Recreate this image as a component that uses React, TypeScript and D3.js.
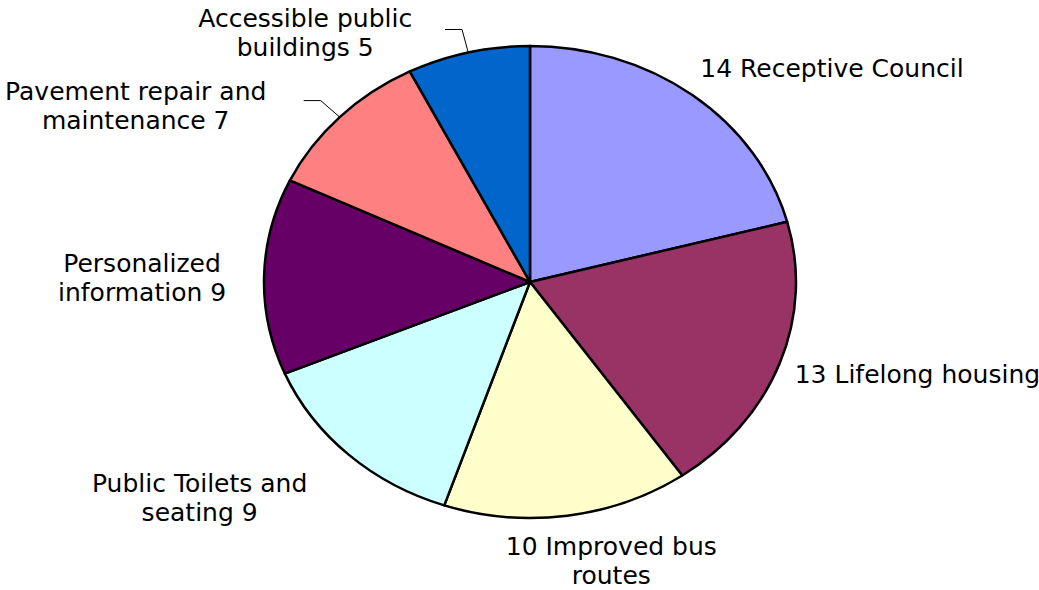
import { arc, pie, select } from "d3";
import { useEffect, useRef } from "react";

const categories = [
  "Receptive Council",
  "Lifelong housing",
  "Improved bus routes",
  "Public Toilets and seating",
  "Personalized information",
  "Pavement repair and maintenance",
  "Accessible public buildings",
];
const values = [14, 13, 10, 9, 9, 7, 5];
const labelLines = [
  ["14 Receptive Council"],
  ["13 Lifelong housing"],
  ["10 Improved bus", "routes"],
  ["Public Toilets and", "seating 9"],
  ["Personalized", "information 9"],
  ["Pavement repair and", "maintenance 7"],
  ["Accessible public", "buildings 5"],
];
const colors = ["#9999FF", "#993366", "#FFFFCC", "#CCFFFF", "#660066", "#FF8080", "#0066CC"];

// label placement relative to the slice's outer mid point
const labelOffsets: { dx: number; dy: number; anchor: string; leader?: boolean }[] = [
  { dx: 8, dy: -18, anchor: "start" },
  { dx: 15, dy: 20, anchor: "start" },
  { dx: 44, dy: 39, anchor: "middle" },
  { dx: -149, dy: 37, anchor: "middle" },
  { dx: -122, dy: -4, anchor: "middle" },
  { dx: -204, dy: -17, anchor: "middle", leader: true },
  { dx: -163, dy: -25, anchor: "middle", leader: true },
];

const W = 1039;
const H = 590;
const cx = 530;
const cy = 282;
const rx = 266;
const ry = 236;
const lineH = 29;

const App = () => {
  const ref = useRef<SVGSVGElement>(null);

  useEffect(() => {
    if (!ref.current) return;
    const svg = select(ref.current);
    svg.selectAll("*").remove();

    const data = categories.map((c, i) => ({ name: c, value: values[i], i }));
    const arcs = pie<{ name: string; value: number; i: number }>()
      .sort(null)
      .value((d) => d.value)(data);

    const slice = arc<any>().innerRadius(0).outerRadius(rx);

    svg
      .append("g")
      .attr("transform", `translate(${cx},${cy}) scale(1,${ry / rx})`)
      .selectAll("path")
      .data(arcs)
      .join("path")
      .attr("d", slice)
      .attr("fill", (d) => colors[d.data.i])
      .attr("stroke", "#000")
      .attr("stroke-width", 2.5)
      .attr("stroke-linejoin", "round")
      .attr("vector-effect", "non-scaling-stroke");

    const pt = (a: number, k: number) => [cx + rx * k * Math.sin(a), cy - ry * k * Math.cos(a)];

    const labels = svg
      .append("g")
      .attr("font-family", "'DejaVu Sans', Verdana, sans-serif")
      .attr("font-size", 25)
      .attr("fill", "#000");

    arcs.forEach((d) => {
      const mid = (d.startAngle + d.endAngle) / 2;
      const [px, py] = pt(mid, 1);
      const o = labelOffsets[d.data.i];
      if (o.leader) {
        const [ex, ey] = pt(mid, 1.1);
        svg
          .append("path")
          .attr("d", `M${px},${py}L${ex},${ey}L${ex - 17},${ey}`)
          .attr("fill", "none")
          .attr("stroke", "#000")
          .attr("stroke-width", 1);
      }
      const t = labels
        .append("text")
        .attr("text-anchor", o.anchor)
        .attr("x", px + o.dx)
        .attr("y", py + o.dy);
      labelLines[d.data.i].forEach((line, j) => {
        t.append("tspan")
          .attr("x", px + o.dx)
          .attr("dy", j === 0 ? 0 : lineH)
          .text(line);
      });
    });
  }, []);

  return (
    <svg
      ref={ref}
      width={W}
      height={H}
      style={{ position: "absolute", left: 0, top: 0, background: "#fff" }}
    />
  );
};

export default App;
